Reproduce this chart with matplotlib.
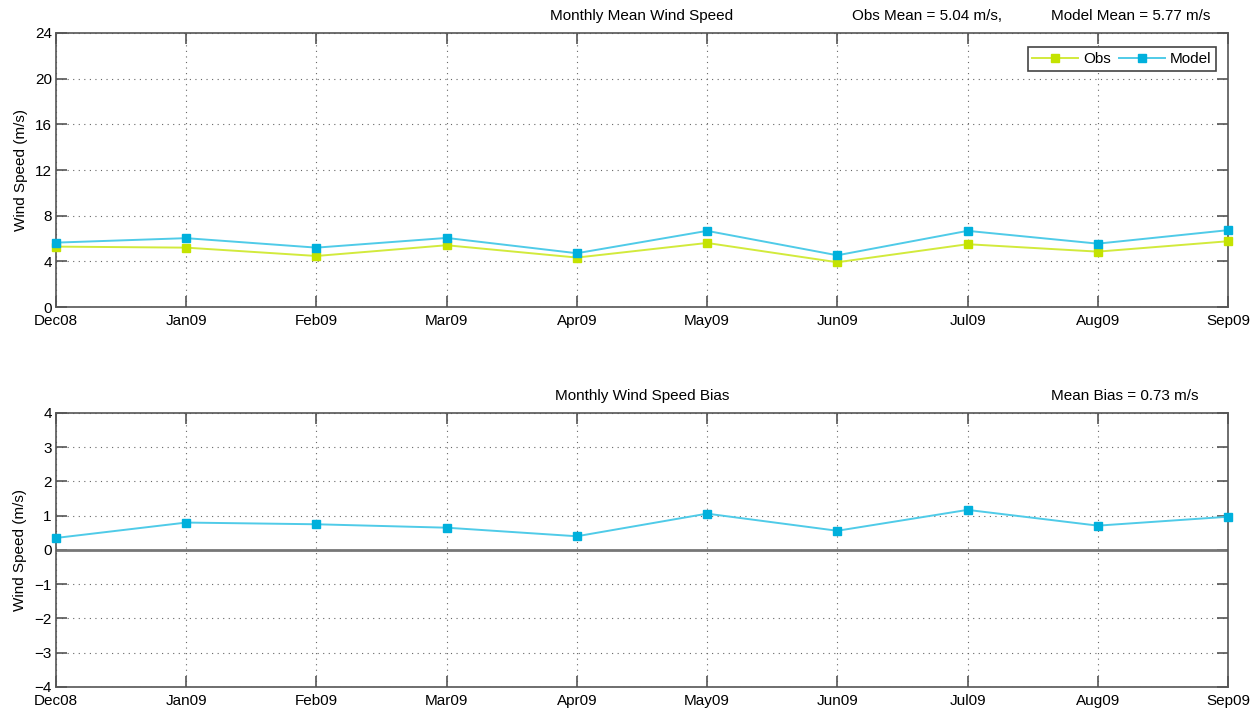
import numpy as np
import matplotlib
matplotlib.use('Agg')
import matplotlib.pyplot as plt

plt.rcParams['font.family'] = ['Liberation Sans', 'DejaVu Sans']

# Datos mensuales
meses = ['Dec08', 'Jan09', 'Feb09', 'Mar09', 'Apr09', 'May09', 'Jun09', 'Jul09', 'Aug09', 'Sep09']
obs = [5.29, 5.20, 4.47, 5.41, 4.33, 5.61, 3.92, 5.50, 4.85, 5.76]
modelo = [5.64, 6.03, 5.20, 6.05, 4.71, 6.67, 4.53, 6.67, 5.55, 6.73]
sesgo = [0.35, 0.80, 0.75, 0.65, 0.40, 1.06, 0.56, 1.17, 0.71, 0.97]

texto_obs = 'Obs Mean = 5.04 m/s,'
texto_mod = 'Model Mean = 5.77 m/s'
texto_sesgo = 'Mean Bias = 0.73 m/s'

c_obs = '#c4e300'
c_obs_linea = '#d2ea3c'
c_mod = '#00b0dc'
c_mod_linea = '#4fcbe8'
c_eje = '#555555'
fs = 11

x = np.arange(len(meses))

fig = plt.figure(figsize=(12.6, 7.11), dpi=100)
ax1 = fig.add_axes([0.0444, 0.5682, 0.9302, 0.3854])
ax2 = fig.add_axes([0.0444, 0.0338, 0.9302, 0.3854])


def estilo(ax):
    # ejes estilo matlab: ticks hacia adentro en los cuatro lados
    ax.set_xlim(0, len(meses) - 1)
    ax.set_xticks(x)
    ax.set_xticklabels(meses)
    ax.tick_params(direction='in', length=8, width=1.2, color=c_eje,
                   top=True, right=True, labelsize=fs)
    ax.tick_params(axis='x', pad=5)
    ax.tick_params(axis='y', pad=3)
    ax.grid(True, linestyle=(0, (1, 4)), color='#666666', linewidth=0.8)
    for s in ax.spines.values():
        s.set_color(c_eje)
        s.set_linewidth(1.2)
    ax.set_ylabel('Wind Speed (m/s)', fontsize=fs, labelpad=5)


# Panel superior: velocidad media mensual
ax1.plot(x, obs, '-', color=c_obs_linea, lw=1.4, marker='s', ms=6,
         mfc=c_obs, mec=c_obs, label='Obs', clip_on=False, zorder=3)
ax1.plot(x, modelo, '-', color=c_mod_linea, lw=1.4, marker='s', ms=6,
         mfc=c_mod, mec=c_mod, label='Model', clip_on=False, zorder=3)
estilo(ax1)
ax1.set_ylim(0, 24)
ax1.set_yticks([0, 4, 8, 12, 16, 20, 24])
ax1.text(0.5, 1.035, 'Monthly Mean Wind Speed', transform=ax1.transAxes,
         ha='center', va='bottom', fontsize=fs)
ax1.text(0.679, 1.035, texto_obs, transform=ax1.transAxes,
         ha='left', va='bottom', fontsize=fs)
ax1.text(0.849, 1.035, texto_mod, transform=ax1.transAxes,
         ha='left', va='bottom', fontsize=fs)
leg = ax1.legend(loc='upper right', ncol=2, fontsize=fs, handlelength=3.0,
                 columnspacing=0.5, handletextpad=0.35, borderpad=0.3,
                 fancybox=False, framealpha=1, bbox_to_anchor=(0.9965, 0.975))
leg.get_frame().set_edgecolor('#444444')
leg.get_frame().set_linewidth(1.2)

# Panel inferior: sesgo mensual
ax2.axhline(0, color='#777777', lw=2, zorder=2)
ax2.plot(x, sesgo, '-', color=c_mod_linea, lw=1.4, marker='s', ms=6,
         mfc=c_mod, mec=c_mod, clip_on=False, zorder=3)
estilo(ax2)
ax2.set_ylim(-4, 4)
ax2.set_yticks(np.arange(-4, 5, 1))
ax2.set_yticklabels([str(v).replace('-', '\u2212') for v in range(-4, 5)])
ax2.text(0.5, 1.035, 'Monthly Wind Speed Bias', transform=ax2.transAxes,
         ha='center', va='bottom', fontsize=fs)
ax2.text(0.849, 1.035, texto_sesgo, transform=ax2.transAxes,
         ha='left', va='bottom', fontsize=fs)

fig.savefig('out.png', dpi=100)
